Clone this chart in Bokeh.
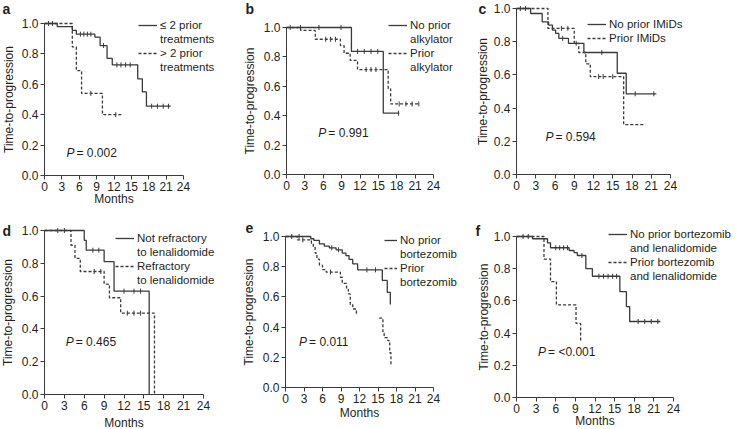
import numpy as np
from bokeh.plotting import figure
from bokeh.models import Range1d, FixedTicker, Legend, LegendItem, Label, NumeralTickFormatter
from bokeh.layouts import column, row
from bokeh.embed import file_html
from bokeh.resources import INLINE

FONT = "Liberation Sans"
INK = "#3a3a3a"
TXT = "#231f20"

x_ticks = [0, 3, 6, 9, 12, 15, 18, 21, 24]
y_ticks = [0.0, 0.2, 0.4, 0.6, 0.8, 1.0]

# ---- panel a ----
a_le2_t = [0, 2.2, 4.8, 5.5, 8.7, 9.6, 10.8, 11.7, 16.1, 16.9, 17.6]
a_le2_s = [1.0, 0.98, 0.955, 0.93, 0.91, 0.855, 0.77, 0.728, 0.636, 0.55, 0.456]
a_le2_end = 21.8
a_le2_cens = [0.7, 1.4, 6.2, 6.8, 7.4, 8.0, 10.2, 12.5, 13.2, 14.0, 14.8, 18.5, 19.5, 20.5, 21.4]
a_gt2_t = [0, 4.8, 5.5, 6.4, 10.0]
a_gt2_s = [1.0, 0.846, 0.69, 0.54, 0.40]
a_gt2_end = 13.5
a_gt2_cens = [8.0, 12.3]

# ---- panel b ----
b_noalk_t = [0, 10.6, 15.8]
b_noalk_s = [1.0, 0.837, 0.417]
b_noalk_end = 18.4
b_noalk_cens = [0.6, 2.3, 5.3, 8.9, 11.6, 12.7, 13.8, 14.9, 18.3]
b_alk_t = [0, 2.3, 4.7, 8.8, 9.4, 10.4, 11.6, 16.6, 17.0]
b_alk_s = [1.0, 0.98, 0.92, 0.877, 0.825, 0.776, 0.714, 0.583, 0.48]
b_alk_end = 21.7
b_alk_cens = [6.4, 7.2, 8.0, 13.0, 13.8, 14.6, 18.4, 19.5, 20.5, 21.6]

# ---- panel c ----
c_no_t = [0, 2.2, 4.0, 5.0, 5.6, 6.1, 6.6, 8.1, 10.5, 15.7, 17.1]
c_no_s = [1.0, 0.97, 0.92, 0.90, 0.87, 0.85, 0.82, 0.79, 0.735, 0.61, 0.486]
c_no_end = 21.8
c_no_cens = [0.6, 1.4, 7.2, 9.3, 13.3, 18.5, 21.4]
c_prior_t = [0, 4.9, 9.0, 9.7, 10.8, 11.5, 16.7]
c_prior_s = [1.0, 0.88, 0.79, 0.735, 0.667, 0.59, 0.30]
c_prior_end = 20.1
c_prior_cens = [7.0, 8.0, 12.8, 13.5, 15.0]

# ---- panel d ----
d_not_t = [0, 6.0, 6.3, 9.0, 10.5, 15.8]
d_not_s = [1.0, 0.94, 0.88, 0.81, 0.63, 0.0]
d_not_cens = [2.0, 3.0, 7.3, 8.2, 12.0, 13.5, 14.5]
d_ref_t = [0, 4.0, 4.6, 5.4, 9.0, 9.8, 11.5, 16.6]
d_ref_s = [1.0, 0.91, 0.83, 0.75, 0.673, 0.59, 0.496, 0.0]
d_ref_cens = [7.5, 8.5, 12.5, 13.5, 14.5]

# ---- panel e ----
e_no_t = [0, 4.1, 4.6, 5.5, 6.3, 7.1, 8.2, 9.2, 9.8, 10.3, 10.9, 11.7, 15.7, 16.5, 17.0]
e_no_s = [1.0, 0.985, 0.974, 0.951, 0.936, 0.925, 0.912, 0.89, 0.874, 0.848, 0.819, 0.779, 0.709, 0.63, 0.55]
e_no_cens = [1.0, 2.2, 7.5, 8.6, 13.2, 14.6]
e_prior1_t = [0, 1.9, 4.2, 4.5, 4.8, 5.1, 5.5, 6.0, 6.6, 8.9, 9.2, 9.9, 10.2, 10.5, 10.9, 11.5]
e_prior1_s = [1.0, 0.978, 0.955, 0.93, 0.89, 0.85, 0.81, 0.78, 0.764, 0.73, 0.69, 0.65, 0.62, 0.55, 0.52, 0.49]
e_prior1_end = 11.8
e_prior2_t = [15.2, 15.8, 16.0, 16.6, 16.9, 17.1]
e_prior2_s = [0.46, 0.36, 0.33, 0.31, 0.23, 0.15]
e_prior_cens = [2.8, 7.3]

# ---- panel f ----
f_no_t = [0, 2.45, 4.74, 5.2, 8.05, 8.8, 9.3, 10.6, 11.6, 15.8, 16.8, 17.3]
f_no_s = [1.0, 0.986, 0.96, 0.93, 0.913, 0.90, 0.882, 0.80, 0.753, 0.658, 0.565, 0.472]
f_no_end = 22.0
f_no_cens = [1.0, 1.8, 6.0, 6.6, 7.2, 7.8, 10.0, 12.6, 13.3, 14.0, 14.7, 15.3, 18.6, 19.6, 20.6, 21.6]
f_prior_t = [0, 4.2, 5.2, 6.1, 9.1, 9.8]
f_prior_s = [1.0, 0.86, 0.72, 0.575, 0.46, 0.35]

p_values = ["0.002", "0.991", "0.594", "0.465", "0.011", "<0.001"]

LEG_ROW = 14  # legend line pitch in px


def step_xy(times, surv, end=None):
    xs, ys = [], []
    for i, (t, s) in enumerate(zip(times, surv)):
        if i > 0:
            xs.append(t)
            ys.append(surv[i - 1])
        xs.append(t)
        ys.append(s)
    if end is not None:
        xs.append(end)
        ys.append(surv[-1])
    return xs, ys


def cens_y(times, surv, cens):
    idx = np.searchsorted(np.array(times), np.array(cens), side="right") - 1
    return [surv[i] for i in idx]


def make_panel(w, h, x0px, x24px, y1px, y0px, months, letter, letter_xy, ylab_px):
    """x0px/x24px/y1px/y0px: pixel positions (inside the figure) of month 0, month 24,
    survival 1.0 and survival 0.0. The frame fills the whole figure; axes are pinned at 0."""
    kx = (x24px - x0px) / 24.0
    ky = (y0px - y1px) / 1.0
    xr = Range1d(-x0px / kx, (w - x0px) / kx)
    yr = Range1d(-(h - y0px) / ky, 1.0 + y1px / ky)
    p = figure(width=w, height=h, output_backend="svg", toolbar_location=None, tools="",
               x_range=xr, y_range=yr, min_border=0, min_border_left=0, min_border_right=0,
               min_border_top=0, min_border_bottom=0)
    p.title.visible = False
    p.outline_line_color = None
    p.grid.visible = False
    for ax in (p.xaxis[0], p.yaxis[0]):
        ax.fixed_location = 0
        ax.axis_line_color = INK
        ax.major_tick_line_color = INK
        ax.minor_tick_line_color = None
        ax.major_tick_out = 4
        ax.major_tick_in = 0
        ax.major_label_text_font = FONT
        ax.major_label_text_font_size = "12px"
        ax.major_label_text_color = TXT
        ax.major_label_standoff = 2
    p.xaxis.ticker = FixedTicker(ticks=x_ticks)
    p.xaxis.bounds = (0, 24)
    p.yaxis.ticker = FixedTicker(ticks=y_ticks)
    p.yaxis.bounds = (0, 1)
    p.yaxis.formatter = NumeralTickFormatter(format="0.0")
    p.add_layout(Label(x=0, y=0.5, x_offset=-(x0px - ylab_px), text="Time-to-progression", angle=np.pi / 2,
                       text_font=FONT, text_font_size="12px", text_color=TXT,
                       text_align="center", text_baseline="middle"))
    if months:
        p.add_layout(Label(x=12, y=0, y_offset=-months, text="Months",
                           text_font=FONT, text_font_size="12px", text_color=TXT,
                           text_align="center", text_baseline="middle"))
    lx, ly = letter_xy
    p.add_layout(Label(x=0, y=1.0, x_offset=-(x0px - lx), y_offset=y1px - ly, text=letter,
                       text_font=FONT, text_font_size="14px", text_font_style="bold",
                       text_color=TXT, text_baseline="top", text_align="left"))
    return p


def curve(p, times, surv, end=None, dash="solid", cens=None):
    xs, ys = step_xy(times, surv, end)
    r = p.line(xs, ys, line_color=INK, line_width=1.3, line_dash=dash)
    if cens:
        p.scatter(cens, cens_y(times, surv, cens), marker="dash", angle=np.pi / 2, size=5,
                  line_color=INK, line_width=1)
    return r


def add_legend(p, entries, left_px, top_px, h, glyph_w=19):
    """entries: list of (label, renderer); multi-line labels are split so the
    key sample sits beside the first line only."""
    blank = p.line([], [], line_alpha=0)
    items = []
    for lab, r in entries:
        lines = lab.split("\n")
        items.append(LegendItem(label=lines[0], renderers=[r]))
        for extra in lines[1:]:
            items.append(LegendItem(label=extra, renderers=[blank]))
    leg_h = len(items) * LEG_ROW
    vy = h - top_px - leg_h
    lg = Legend(items=items, location=(left_px, vy))
    lg.border_line_alpha = 0
    lg.background_fill_alpha = 0
    lg.padding = 0
    lg.margin = 0
    lg.spacing = 0
    lg.glyph_width = glyph_w
    lg.glyph_height = LEG_ROW
    lg.label_height = LEG_ROW
    lg.label_standoff = 3
    lg.label_text_font = FONT
    lg.label_text_font_size = "11.5px"
    lg.label_text_color = TXT
    p.add_layout(lg)


def add_p(p, x, y, val):
    p.add_layout(Label(x=x, y=y, text="P", text_font=FONT, text_font_size="12px",
                       text_font_style="italic", text_color=TXT, text_baseline="middle"))
    p.add_layout(Label(x=x, y=y, x_offset=10, text="= " + val, text_font=FONT, text_font_size="12px",
                       text_color=TXT, text_baseline="middle"))


# ---- row 1 (height 214) ----
pa = make_panel(240, 214, 44, 183, 23, 175, 23, "a", (2, 0), 8)
r1 = curve(pa, a_le2_t, a_le2_s, a_le2_end, cens=a_le2_cens)
r2 = curve(pa, a_gt2_t, a_gt2_s, a_gt2_end, dash="3 2", cens=a_gt2_cens)
add_legend(pa, [("≤ 2 prior\ntreatments", r1), ("> 2 prior\ntreatments", r2)], 138, 18, 214)
add_p(pa, 3.8, 0.15, p_values[0])

pb = make_panel(234, 214, 46, 193, 27, 174, 0, "b", (5, 0), 9)
r1 = curve(pb, b_noalk_t, b_noalk_s, b_noalk_end, cens=b_noalk_cens)
r2 = curve(pb, b_alk_t, b_alk_s, b_alk_end, dash="3 2", cens=b_alk_cens)
add_legend(pb, [("No prior\nalkylator", r1), ("Prior\nalkylator", r2)], 148, 18, 214)
add_p(pb, 5.2, 0.28, p_values[1])

pc = make_panel(263, 214, 42, 196, 8, 174, 0, "c", (4, 0), 8)
r1 = curve(pc, c_no_t, c_no_s, c_no_end, cens=c_no_cens)
r2 = curve(pc, c_prior_t, c_prior_s, c_prior_end, dash="3 2", cens=c_prior_cens)
add_legend(pc, [("No prior IMiDs", r1), ("Prior IMiDs", r2)], 113, 17, 214)
add_p(pc, 4.5, 0.225, p_values[2])

# ---- row 2 (height 215) ----
pd_ = make_panel(240, 215, 44, 203, 16, 180, 28, "d", (2, 8), 7)
r1 = curve(pd_, d_not_t, d_not_s, cens=d_not_cens)
r2 = curve(pd_, d_ref_t, d_ref_s, dash="3 2", cens=d_ref_cens)
add_legend(pd_, [("Not refractory\nto lenalidomide", r1), ("Refractory\nto lenalidomide", r2)], 115, 17, 215)
add_p(pd_, 3.2, 0.32, p_values[3])

pe = make_panel(234, 215, 45, 193, 22, 173, 25, "e", (5, 8), 8)
r1 = curve(pe, e_no_t, e_no_s, cens=e_no_cens)
r2 = curve(pe, e_prior1_t, e_prior1_s, e_prior1_end, dash="3 2", cens=e_prior_cens)
curve(pe, e_prior2_t, e_prior2_s, dash="3 2")
add_legend(pe, [("No prior\nbortezomib", r1), ("Prior\nbortezomib", r2)], 144, 19, 215, glyph_w=13)
add_p(pe, 2.2, 0.30, p_values[4])

pf = make_panel(263, 215, 42, 199, 22, 183, 23, "f", (1, 8), 9)
r1 = curve(pf, f_no_t, f_no_s, f_no_end, cens=f_no_cens)
r2 = curve(pf, f_prior_t, f_prior_s, dash="3 2")
add_legend(pf, [("No prior bortezomib\nand lenalidomide", r1), ("Prior bortezomib\nand lenalidomide", r2)], 134, 13, 215)
add_p(pf, 3.3, 0.28, p_values[5])

layout = column(row(pa, pb, pc), row(pd_, pe, pf))
open("out.html", "w").write(file_html(layout, INLINE))
